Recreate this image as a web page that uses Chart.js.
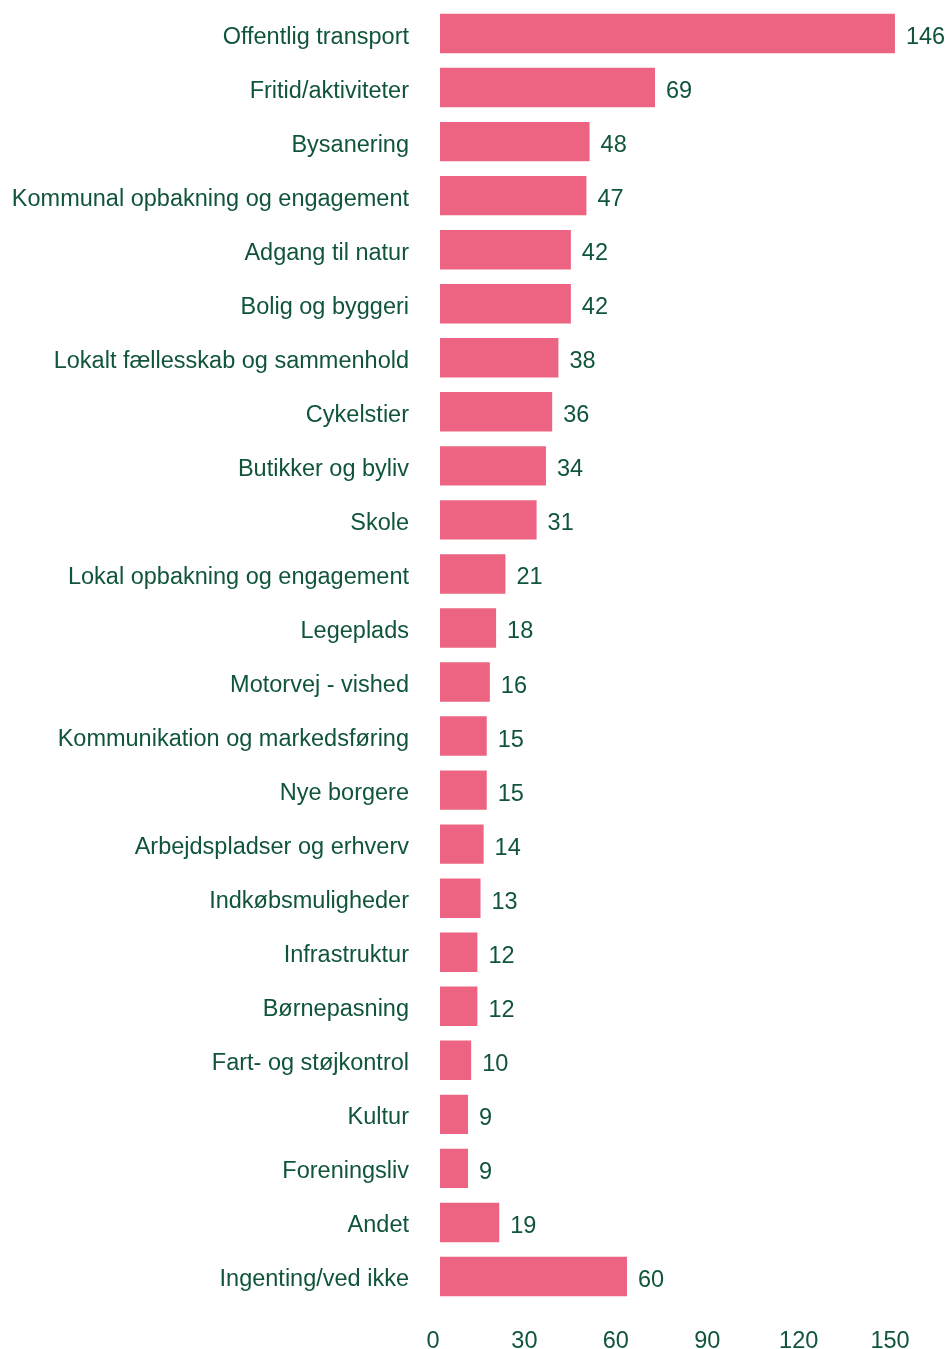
<!DOCTYPE html>
<html>
<head>
<meta charset="utf-8">
<script src="https://cdn.jsdelivr.net/npm/chart.js@4"></script>
<style>
  html, body { margin: 0; padding: 0; background: #fff; }
  canvas { display: block; }
</style>
</head>
<body>
<canvas id="chart" width="947" height="1349"></canvas>
<script>
const categories = [
  "Offentlig transport", "Fritid/aktiviteter", "Bysanering",
  "Kommunal opbakning og engagement", "Adgang til natur", "Bolig og byggeri",
  "Lokalt fællesskab og sammenhold", "Cykelstier", "Butikker og byliv", "Skole",
  "Lokal opbakning og engagement", "Legeplads", "Motorvej - vished",
  "Kommunikation og markedsføring", "Nye borgere", "Arbejdspladser og erhverv",
  "Indkøbsmuligheder", "Infrastruktur", "Børnepasning", "Fart- og støjkontrol",
  "Kultur", "Foreningsliv", "Andet", "Ingenting/ved ikke"
];
const counts = [146, 69, 48, 47, 42, 42, 38, 36, 34, 31, 21, 18, 16, 15, 15, 14, 13, 12, 12, 10, 9, 9, 19, 60];
const xTicks = [0, 30, 60, 90, 120, 150];

const green = "#10553a";
const pink = "#ec6482";
const font = { family: "'Liberation Sans', Arial, sans-serif", size: 23.5 };

// value next to each bar end
const valueLabels = {
  id: "valueLabels",
  afterDatasetsDraw(chart) {
    const c = chart.ctx;
    const meta = chart.getDatasetMeta(0);
    c.save();
    c.font = font.size + "px " + font.family;
    c.fillStyle = green;
    c.textAlign = "left";
    c.textBaseline = "middle";
    meta.data.forEach((bar, i) => {
      c.fillText(String(counts[i]), bar.x + 11, bar.y + 4);
    });
    c.restore();
  }
};

new Chart(document.getElementById("chart"), {
  type: "bar",
  data: {
    labels: categories,
    datasets: [{
      data: counts,
      backgroundColor: pink,
      borderWidth: 0,
      categoryPercentage: 1,
      barPercentage: 0.73
    }]
  },
  options: {
    indexAxis: "y",
    responsive: false,
    animation: false,
    layout: { padding: { top: 6.5, right: 10, bottom: 0, left: 0 } },
    plugins: { legend: { display: false }, tooltip: { enabled: false } },
    scales: {
      // value scale for the bars (not drawn)
      x: {
        display: false,
        min: 0,
        max: 159.5
      },
      // tick row along the bottom, spaced as in the source picture
      xAxis: {
        type: "linear",
        position: "bottom",
        axis: "x",
        min: 0,
        max: 163.1,
        grid: { display: false, drawTicks: false },
        border: { display: false },
        afterBuildTicks: axis => { axis.ticks = xTicks.map(v => ({ value: v })); },
        afterFit: axis => { axis.height = 45.5; },
        ticks: { color: green, font: font, padding: 24, labelOffset: -7, maxRotation: 0 }
      },
      y: {
        grid: { display: false, drawTicks: false },
        border: { display: false },
        afterFit: axis => { axis.width = 440; axis.paddingTop = 0; axis.paddingBottom = 0; },
        ticks: { color: green, font: font, padding: 31, labelOffset: 3.5, autoSkip: false }
      }
    }
  },
  plugins: [valueLabels]
});
</script>
</body>
</html>
